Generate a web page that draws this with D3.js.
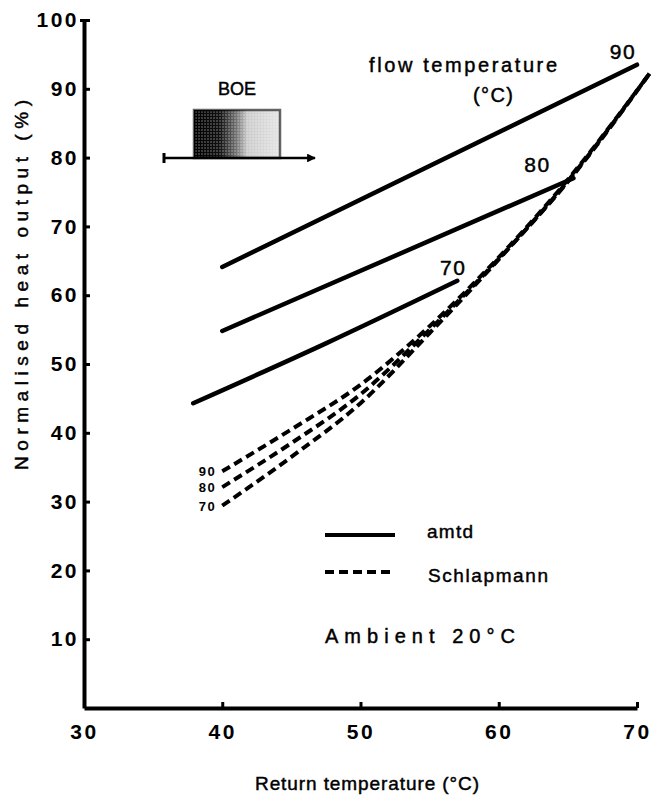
<!DOCTYPE html>
<html>
<head>
<meta charset="utf-8">
<script src="https://cdn.jsdelivr.net/npm/d3@7"></script>
<style>
  body { margin: 0; background: #fff; }
  svg { display: block; font-family: "Liberation Sans", Arial, sans-serif; }
  .axis .domain { stroke: #000; stroke-width: 4; }
  .axis .tick line { stroke: #000; stroke-width: 3; }
  .axis .tick text { font-size: 21px; fill: #000; letter-spacing: 2.5px; }
  .note { fill: #000; stroke: #000; stroke-width: 0.45px; }
</style>
</head>
<body>
<svg id="chart" width="652" height="797"></svg>
<script>
// return temperature (x) and normalised heat output (y)
const xTicks = [30, 40, 50, 60, 70]
const yTicks = [10, 20, 30, 40, 50, 60, 70, 80, 90, 100]

// amtd model, one straight-ish line per flow temperature
const amtd90 = [[40, 64.1], [70, 93.5]]
const amtd80 = [[40, 54.8], [65.4, 77.0]]
const amtd70 = [[37.9, 44.3], [47.5, 53.0], [57.0, 62.1]]

// Schlapmann curves
const schl90 = [[40, 34.4], [45, 40.5], [50, 47.0], [55, 55.5], [60, 65.5], [65, 76.8], [70.9, 92.2]]
const schl80 = [[40, 32.1], [45, 38.5], [50, 45.6], [55, 55.0], [60, 65.3], [65, 76.5], [70.9, 92.2]]
const schl70 = [[40, 29.4], [45, 36.5], [50, 44.3], [55, 54.5], [60, 65.2], [65, 76.6], [70.9, 92.2]]

const flowLabels = ['90', '80', '70']

const svg = d3.select('#chart')
const x = d3.scaleLinear().domain([30, 70]).range([84, 637])
const y = d3.scaleLinear().domain([0, 100]).range([708, 20])

const line = d3.line().x((d) => x(d[0])).y((d) => y(d[1])).curve(d3.curveMonotoneX)

// axes
svg.append('g')
  .attr('class', 'axis axis--x')
  .attr('transform', `translate(0, ${y(0)})`)
  .call(d3.axisBottom(x).tickValues(xTicks).tickSize(-6).tickSizeOuter(0).tickPadding(16))
svg.append('g')
  .attr('class', 'axis axis--y')
  .attr('transform', `translate(${x(30)}, 0)`)
  .call(d3.axisLeft(y).tickValues(yTicks).tickSize(-6).tickSizeOuter(0).tickPadding(5))
svg.selectAll('.axis .tick text').attr('font-weight', 'bold')
svg.select('.axis--y .tick:last-of-type line').attr('x1', -4)

// amtd lines
const solid = [amtd90, amtd80, amtd70]
svg.selectAll('.amtd')
  .data(solid)
  .enter()
  .append('path')
  .attr('class', 'amtd')
  .attr('d', line)
  .attr('fill', 'none')
  .attr('stroke', '#000')
  .attr('stroke-width', 4.5)
  .attr('stroke-linecap', 'round')

const endOffsets = [[-14, -6], [-36, -6], [-4, -6]]
svg.selectAll('.flow-label')
  .data(solid)
  .enter()
  .append('text')
  .attr('class', 'flow-label note')
  .attr('x', (d, i) => x(d[d.length - 1][0]) + endOffsets[i][0])
  .attr('y', (d, i) => y(d[d.length - 1][1]) + endOffsets[i][1])
  .attr('text-anchor', 'middle')
  .attr('font-size', 21)
  .attr('letter-spacing', 1.5)
  .text((d, i) => flowLabels[i])

// Schlapmann curves
const dashed = [schl90, schl80, schl70]
svg.selectAll('.schl')
  .data(dashed)
  .enter()
  .append('path')
  .attr('class', 'schl')
  .attr('d', line)
  .attr('fill', 'none')
  .attr('stroke', '#000')
  .attr('stroke-width', 4)
  .attr('stroke-dasharray', '9,5')

svg.selectAll('.schl-label')
  .data(dashed)
  .enter()
  .append('text')
  .attr('class', 'schl-label')
  .attr('x', (d) => x(d[0][0]) - 6)
  .attr('y', (d) => y(d[0][1]) + 5)
  .attr('text-anchor', 'end')
  .attr('font-size', 13)
  .attr('font-weight', 'bold')
  .attr('letter-spacing', 1.5)
  .text((d, i) => flowLabels[i])

// annotation text
function label(txt, px, py, size, len) {
  const t = svg.append('text')
    .attr('class', 'note')
    .attr('x', px)
    .attr('y', py)
    .attr('font-size', size)
    .text(txt)
  if (len) t.attr('textLength', len).attr('lengthAdjust', 'spacing')
  return t
}

label('flow temperature', 369, 72, 20, 188)
label('(°C)', 473, 102, 20, 40)
label('Return temperature  (°C)', 255, 790, 19, 224)
label('amtd', 427, 538, 19, 46)
label('Schlapmann', 428, 582, 19, 120)
label('Ambient 20°C', 325, 643, 20, 190)
label('BOE', 218, 95, 18, 38)

svg.append('text')
  .attr('class', 'note')
  .attr('transform', 'translate(28, 470) rotate(-90)')
  .attr('font-size', 19)
  .attr('textLength', 370)
  .attr('lengthAdjust', 'spacing')
  .text('Normalised heat output (%)')

// legend swatches
svg.append('line')
  .attr('x1', 325).attr('x2', 395).attr('y1', 535).attr('y2', 535)
  .attr('stroke', '#000').attr('stroke-width', 4)
svg.append('line')
  .attr('x1', 325).attr('x2', 395).attr('y1', 572).attr('y2', 572)
  .attr('stroke', '#000').attr('stroke-width', 4).attr('stroke-dasharray', '9,5')

// BOE radiator sketch
const defs = svg.append('defs')
const grad = defs.append('linearGradient').attr('id', 'boe')
grad.append('stop').attr('offset', '0%').attr('stop-color', '#000')
grad.append('stop').attr('offset', '30%').attr('stop-color', '#111')
grad.append('stop').attr('offset', '50%').attr('stop-color', '#777')
grad.append('stop').attr('offset', '62%').attr('stop-color', '#ccc')
grad.append('stop').attr('offset', '100%').attr('stop-color', '#e4e4e4')
const stipple = defs.append('pattern')
  .attr('id', 'stipple')
  .attr('width', 3).attr('height', 3)
  .attr('patternUnits', 'userSpaceOnUse')
stipple.append('circle').attr('cx', 1).attr('cy', 1).attr('r', 0.7).attr('fill', '#fff')
const marker = defs.append('marker')
  .attr('id', 'arrow')
  .attr('viewBox', '0 0 10 10')
  .attr('refX', 9).attr('refY', 5)
  .attr('markerWidth', 3.5).attr('markerHeight', 3.5)
  .attr('orient', 'auto')
marker.append('path').attr('d', 'M0,0L10,5L0,10Z').attr('fill', '#000')

svg.append('rect')
  .attr('x', 194).attr('y', 110).attr('width', 86).attr('height', 48)
  .attr('fill', 'url(#boe)')
svg.append('rect')
  .attr('x', 194).attr('y', 110).attr('width', 86).attr('height', 48)
  .attr('fill', 'url(#stipple)')
  .attr('opacity', 0.6)
  .attr('stroke', '#000').attr('stroke-width', 2.5)
svg.append('line')
  .attr('x1', 163).attr('x2', 315).attr('y1', 158).attr('y2', 158)
  .attr('stroke', '#000').attr('stroke-width', 2.5)
  .attr('marker-end', 'url(#arrow)')
svg.append('line')
  .attr('x1', 164).attr('x2', 164).attr('y1', 153).attr('y2', 163)
  .attr('stroke', '#000').attr('stroke-width', 3)
</script>
</body>
</html>
